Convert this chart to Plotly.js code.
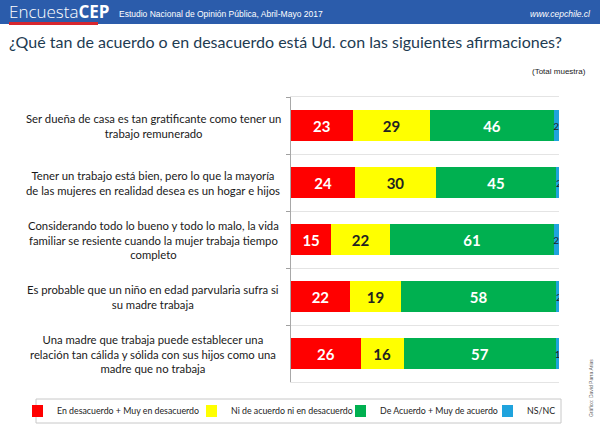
<!DOCTYPE html>
<html>
<head>
<meta charset="utf-8">
<script src="https://cdn.plot.ly/plotly-3.0.1.min.js"></script>
<style>html,body{margin:0;padding:0;background:#fff;}#chart{width:600px;height:426px;}</style>
</head>
<body>
<div id="chart"></div>
<script>
var categories = [
  "Ser dueña de casa es tan gratificante como tener un<br>trabajo remunerado",
  "Tener un trabajo está bien, pero lo que la mayoría<br>de las mujeres en realidad desea es un hogar e hijos",
  "Considerando todo lo bueno y todo lo malo, la vida<br>familiar se resiente cuando la mujer trabaja tiempo<br>completo",
  "Es probable que un niño en edad parvularia sufra si<br>su madre trabaja",
  "Una madre que trabaja puede establecer una<br>relación tan cálida y sólida con sus hijos como una<br>madre que no trabaja"
];
var seriesNames = ["En desacuerdo + Muy en desacuerdo", "Ni de acuerdo ni en desacuerdo", "De Acuerdo + Muy de acuerdo", "NS/NC"];
var desacuerdo = [23, 24, 15, 22, 26];
var neutral = [29, 30, 22, 19, 16];
var acuerdo = [46, 45, 61, 58, 57];
var nsnc = [2, 2, 2, 2, 1];

var colors = ["#ff0000", "#ffff00", "#00b050", "#1fa3dd"];
var textColors = ["#ffffff", "#222222", "#ffffff", "#222222"];
var textSizes = [15, 15, 15, 10];
var seriesValues = [desacuerdo, neutral, acuerdo, nsnc];
var legendIds = ["legend", "legend2", "legend3", "legend4"];
var legendLeftPx = [32, 206, 355, 502];

var FONT = "Lato, 'Open Sans', sans-serif";

var traces = seriesValues.map(function (vals, i) {
  return {
    type: "bar",
    orientation: "h",
    name: seriesNames[i],
    legend: legendIds[i],
    y: categories,
    x: vals,
    text: vals.map(String),
    textposition: "inside",
    insidetextanchor: "middle",
    constraintext: "none",
    textangle: 0,
    textfont: {family: FONT, size: textSizes[i], color: textColors[i], weight: i === 3 ? "normal" : "bold"},
    marker: {color: colors[i], line: {width: 0}},
    hoverinfo: "none"
  };
});

// pixel helpers for paper coordinates
var L = 291, R = 41, T = 97, B = 44, W = 600, H = 426;
var pw = W - L - R, ph = H - T - B;
function px(x) { return (x - L) / pw; }
function py(y) { return (H - B - y) / ph; }

var annotations = categories.map(function (c) {
  return {
    xref: "paper", yref: "y", x: px(153), y: c,
    text: c, showarrow: false, xanchor: "center", yanchor: "middle", align: "center",
    font: {family: FONT, size: 11.3, color: "#1a1a1a"}
  };
});

annotations.push(
  {xref: "paper", yref: "paper", x: px(7), y: py(12), xanchor: "left", yanchor: "middle", showarrow: false,
   text: "<span style='font-weight:300'>Encuesta</span><b>CEP</b>", font: {family: "'Open Sans', sans-serif", size: 17, color: "#ffffff"}},
  {xref: "paper", yref: "paper", x: px(117), y: py(14), xanchor: "left", yanchor: "middle", showarrow: false,
   text: "Estudio Nacional de Opinión Pública, Abril-Mayo 2017", font: {family: "'Liberation Sans', Arial, sans-serif", size: 8.5, color: "#ffffff"}},
  {xref: "paper", yref: "paper", x: px(593), y: py(14), xanchor: "right", yanchor: "middle", showarrow: false,
   text: "<i>www.cepchile.cl</i>", font: {family: "'Liberation Sans', Arial, sans-serif", size: 8.5, color: "#ffffff"}},
  {xref: "paper", yref: "paper", x: px(7), y: py(41), xanchor: "left", yanchor: "middle", showarrow: false,
   text: "¿Qué tan de acuerdo o en desacuerdo está Ud. con las siguientes afirmaciones?", font: {family: FONT, size: 16, color: "#1d3b52"}},
  {xref: "paper", yref: "paper", x: px(588), y: py(72), xanchor: "right", yanchor: "middle", showarrow: false,
   text: "(Total muestra)", font: {family: "'Liberation Sans', Arial, sans-serif", size: 8, color: "#222222"}},
  {xref: "paper", yref: "paper", x: px(591), y: py(388), xanchor: "center", yanchor: "middle", showarrow: false, textangle: -90,
   text: "Gráfico: David Parra Arias", font: {family: "'Liberation Sans', Arial, sans-serif", size: 5, color: "#666666"}}
);

var shapes = [
  {type: "rect", xref: "paper", yref: "paper", x0: px(0), x1: px(600), y0: py(0), y1: py(24), fillcolor: "#2b5cab", line: {width: 0}, layer: "below"},
  {type: "rect", xref: "paper", yref: "paper", x0: px(9), x1: px(98), y0: py(22), y1: py(25), fillcolor: "#d7262e", line: {width: 0}},
  {type: "rect", xref: "paper", yref: "paper", x0: px(36), x1: px(561), y0: py(399), y1: py(423), fillcolor: "rgba(0,0,0,0)", line: {color: "#c8c8c8", width: 1}}
];

var layout = {
  width: W, height: H,
  margin: {l: L, r: R, t: T, b: B, pad: 0, autoexpand: false},
  paper_bgcolor: "#ffffff", plot_bgcolor: "#ffffff",
  barmode: "stack",
  bargap: 0.45,
  showlegend: true,
  xaxis: {
    range: [0, 100], tickvals: [0, 100], showticklabels: false, ticks: "",
    showgrid: true, gridcolor: "#e4e4e4", zeroline: false,
    showline: true, mirror: true, linecolor: "#e4e4e4", linewidth: 1, fixedrange: true
  },
  yaxis: {
    type: "category", autorange: "reversed", showticklabels: false,
    tickson: "boundaries", ticks: "outside", ticklen: 4, tickcolor: "#a0a0a0",
    showgrid: true, gridcolor: "#e4e4e4",
    showline: true, linecolor: "#a8a8a8", linewidth: 1, zeroline: false, fixedrange: true
  },
  annotations: annotations,
  shapes: shapes,
  font: {family: FONT}
};

legendIds.forEach(function (id, i) {
  layout[id] = {
    orientation: "h", x: px(legendLeftPx[i]), xanchor: "left", y: py(411), yanchor: "middle",
    borderwidth: 0, bgcolor: "rgba(0,0,0,0)",
    font: {family: FONT, size: 8.8, color: "#222222"},
    itemwidth: 30, indentation: -15
  };
});

Plotly.newPlot("chart", traces, layout, {displayModeBar: false, staticPlot: true});
</script>
</body>
</html>
